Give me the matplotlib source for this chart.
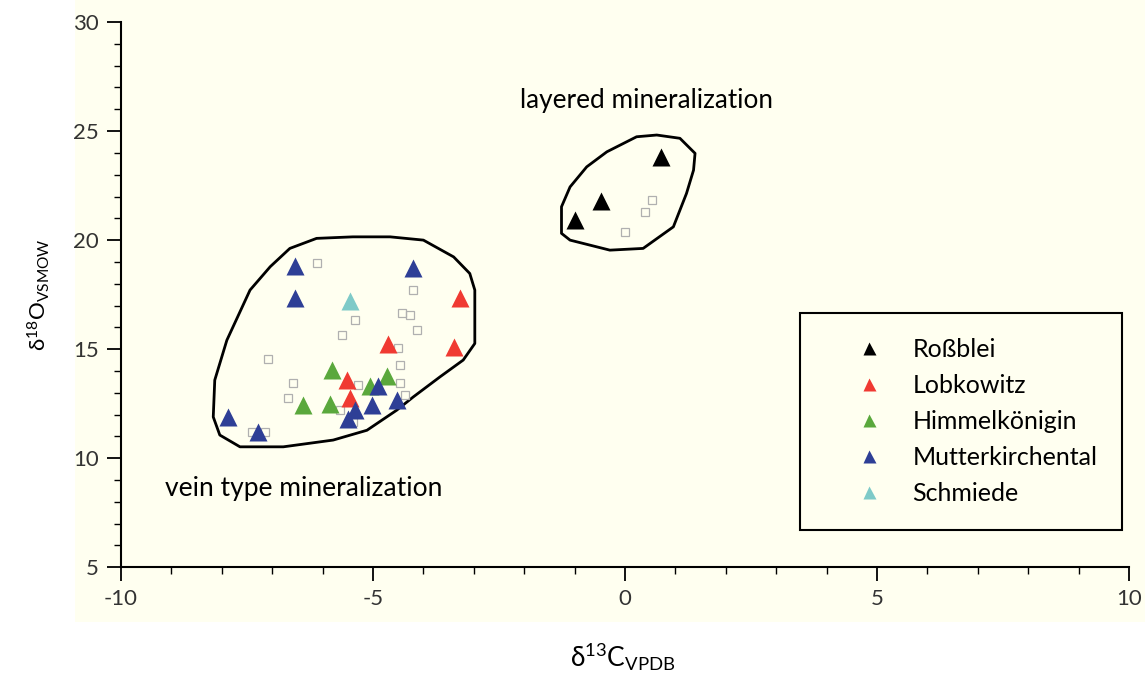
import matplotlib
matplotlib.use("Agg")
import matplotlib.pyplot as plt
from matplotlib.patches import Rectangle, Polygon
from matplotlib.ticker import MultipleLocator

plt.rcParams['font.family'] = ['Lato', 'DejaVu Sans']
plt.rcParams['mathtext.fontset'] = 'custom'
plt.rcParams['mathtext.rm'] = 'Lato'
plt.rcParams['mathtext.it'] = 'Lato'
plt.rcParams['axes.unicode_minus'] = False

# sample groups (d13C VPDB, d18O VSMOW)
rossblei_x = [-0.99, -0.48, 0.71]
rossblei_y = [20.9, 21.8, 23.8]

lobkowitz_x = [-3.27, -3.40, -4.70, -5.52, -5.46]
lobkowitz_y = [17.35, 15.1, 15.25, 13.6, 12.75]

himmel_x = [-5.82, -4.73, -5.06, -6.38, -5.85]
himmel_y = [14.05, 13.75, 13.3, 12.45, 12.5]

mutter_x = [-6.55, -4.20, -6.55, -7.87, -7.28, -4.90, -5.03, -4.53, -5.36, -5.49]
mutter_y = [18.8, 18.7, 17.35, 11.9, 11.2, 13.3, 12.45, 12.65, 12.2, 11.8]

schmiede_x = [-5.46]
schmiede_y = [17.2]

# other literature data (open grey squares)
other_x = [-6.12, -4.20, -4.43, -4.27, -5.36, -4.13, -5.62, -7.08, -4.50, -4.46,
           -6.58, -4.46, -5.29, -4.37, -6.68, -5.65, -5.39, -7.41, -7.14,
           0.53, 0.40, 0.00]
other_y = [18.95, 17.7, 16.65, 16.55, 16.35, 15.9, 15.65, 14.55, 15.05, 14.25,
           13.45, 13.45, 13.35, 12.9, 12.75, 12.2, 11.65, 11.2, 11.2,
           21.85, 21.3, 20.35]

# hand-drawn field outlines
vein_field_x = [-6.65, -6.12, -5.40, -4.66, -4.00, -3.40, -3.08, -2.98, -2.98, -3.21,
                -3.67, -4.20, -4.53, -5.12, -5.79, -6.78, -7.64, -8.04, -8.17, -8.14,
                -7.90, -7.44, -7.04]
vein_field_y = [19.62, 20.08, 20.15, 20.15, 20.0, 19.23, 18.47, 17.71, 15.26, 14.50,
                13.73, 12.81, 12.20, 11.28, 10.83, 10.52, 10.52, 11.06, 11.89, 13.58,
                15.41, 17.71, 18.78]
layer_field_x = [0.23, 0.63, 1.09, 1.39, 1.36, 1.22, 0.96, 0.36, -0.30, -1.09,
                 -1.26, -1.26, -1.09, -0.76, -0.36]
layer_field_y = [24.74, 24.82, 24.67, 23.98, 23.21, 22.14, 20.61, 19.62, 19.54, 20.0,
                 20.31, 21.53, 22.44, 23.36, 24.05]

cream = '#fffff0'

fig = plt.figure(figsize=(11.45, 6.9), dpi=100)
fig.patch.set_facecolor('white')
fig.patches.append(Rectangle((0.0655, 0.099), 0.9345, 0.901, transform=fig.transFigure,
                             facecolor=cream, edgecolor='none', zorder=-10))

ax = fig.add_axes([0.1057, 0.178, 0.8803, 0.790])
ax.patch.set_alpha(0)

ax.add_patch(Polygon(list(zip(vein_field_x, vein_field_y)), closed=True,
                     fill=False, edgecolor='black', lw=2, joinstyle='round'))
ax.add_patch(Polygon(list(zip(layer_field_x, layer_field_y)), closed=True,
                     fill=False, edgecolor='black', lw=2, joinstyle='round'))

ax.plot(other_x, other_y, 's', ms=6, mfc='none', mec='#b0b0b0', mew=0.9)

series = [
    (rossblei_x, rossblei_y, 'black', 'Roßblei'),
    (lobkowitz_x, lobkowitz_y, '#f03a32', 'Lobkowitz'),
    (himmel_x, himmel_y, '#5aa83c', 'Himmelkönigin'),
    (mutter_x, mutter_y, '#2e3f96', 'Mutterkirchental'),
    (schmiede_x, schmiede_y, '#7ecac8', 'Schmiede'),
]
handles = []
for xs, ys, col, name in series:
    h, = ax.plot(xs, ys, '^', ms=13, color=col, mec='none', label=name)
    handles.append(h)

leg = ax.legend(handles=handles, loc='upper left', bbox_to_anchor=(0.6736, 0.466),
                fontsize=18, frameon=True, fancybox=False, edgecolor='black',
                facecolor=cream, framealpha=1, borderpad=1.0, labelspacing=0.52,
                handletextpad=0.0, handlelength=3.5, borderaxespad=0, markerscale=0.72)
leg.get_frame().set_linewidth(1.5)
leg.set_zorder(5)

ax.text(-2.08, 26.42, 'layered mineralization', fontsize=18.8, va='center', ha='left')
ax.text(-9.13, 8.62, 'vein type mineralization', fontsize=19, va='center', ha='left')

ax.set_xlim(-10, 10)
ax.set_ylim(5, 30)
ax.xaxis.set_major_locator(MultipleLocator(5))
ax.xaxis.set_minor_locator(MultipleLocator(1))
ax.yaxis.set_major_locator(MultipleLocator(5))
ax.yaxis.set_minor_locator(MultipleLocator(1))
ax.tick_params(which='major', length=10, width=1.3, labelsize=16, labelcolor='#333333', pad=6)
ax.tick_params(which='minor', length=5, width=1.0)

for side in ['top', 'right']:
    ax.spines[side].set_visible(False)
for side in ['left', 'bottom']:
    ax.spines[side].set_linewidth(1.5)

ax.set_xlabel(r'δ$^{13}$C$_{\mathrm{VPDB}}$', fontsize=19)
ax.set_ylabel(r'δ$^{18}$O$_{\mathrm{VSMOW}}$', fontsize=16)
ax.xaxis.set_label_coords(0.498, -0.135)
ax.yaxis.set_label_coords(-0.068, 0.50)

fig.savefig('out.png', dpi=100)
